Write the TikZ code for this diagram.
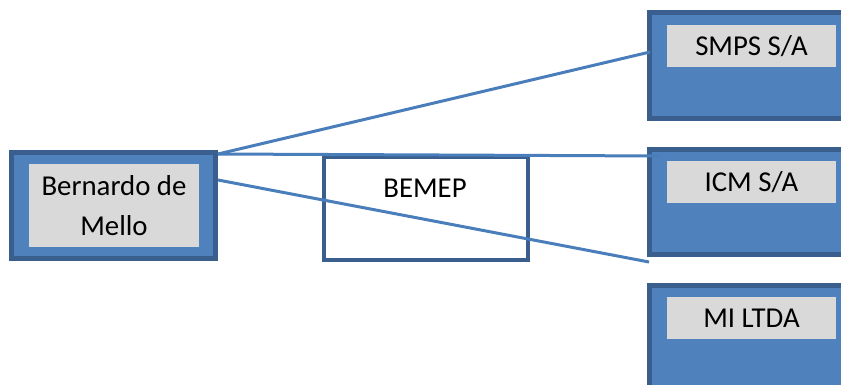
\documentclass[tikz,border=0pt]{standalone}
\usepackage{fontspec}
\setmainfont{Carlito}
\definecolor{boxfill}{HTML}{4F81BD}
\definecolor{boxline}{HTML}{3A5F8F}
\definecolor{linkcol}{HTML}{4A7EBB}
\definecolor{labelgray}{HTML}{D9D9D9}
\tikzset{
  outerbox/.style={draw=boxline, fill=boxfill, line width=5pt, inner sep=0pt, outer sep=0pt},
  labelbox/.style={fill=labelgray, inner sep=0pt, outer sep=0pt, font=\fontsize{28.8}{40}\selectfont, align=center, text=black},
  plainbox/.style={draw=boxline, fill=white, line width=4.5pt, inner sep=0pt, outer sep=0pt, font=\fontsize{28.8}{40}\selectfont},
  link/.style={draw=linkcol, line width=3pt}
}
\begin{document}
\begin{tikzpicture}[x=1pt,y=-1pt]
\useasboundingbox (0,0) rectangle (841,385);
\clip (0,0) rectangle (841,385);
% Bernardo de Mello
\node[outerbox, minimum width=204pt, minimum height=106pt] (bm) at (113.5,205.5) {};
\node[labelbox, minimum width=170pt, minimum height=83pt] (bmt) at (114,205.5) {Bernardo de\\Mello};
% BEMEP
\node[plainbox, minimum width=204pt, minimum height=103pt] (bemep) at (426,208.5) {};
\node[font=\fontsize{28.8}{40}\selectfont, inner sep=0pt] (bemept) at (425,188) {BEMEP};
% right boxes
\node[outerbox, minimum width=210pt, minimum height=106pt, anchor=north west] (smps) at (649.5,12.5) {};
\node[labelbox, minimum width=169pt, minimum height=42pt] (smpst) at (751.5,46) {SMPS S/A};
\node[outerbox, minimum width=210pt, minimum height=105pt, anchor=north west] (icm) at (649.5,149.5) {};
\node[labelbox, minimum width=169pt, minimum height=42pt] (icmt) at (751.5,182) {ICM S/A};
\node[outerbox, minimum width=210pt, minimum height=120pt, anchor=north west] (mi) at (649.5,285.5) {};
\node[labelbox, minimum width=169pt, minimum height=42pt] (mit) at (751.5,318) {MI LTDA};
% connectors
\path (bm.north east) ++(2.5,1.5) coordinate (s1);
\path (bm.north east) ++(2.5,27.5) coordinate (s3);
\path (smps.north west) ++(0.5,39.5) coordinate (e1);
\path (icm.north west) ++(10.5,6.5) coordinate (e2);
\path (icm.south west) ++(-0.5,7.5) coordinate (e3);
\draw[link] (s1) -- (e1);
\draw[link] (s1) -- (e2);
\draw[link] (s3) -- (e3);
\end{tikzpicture}
\end{document}
